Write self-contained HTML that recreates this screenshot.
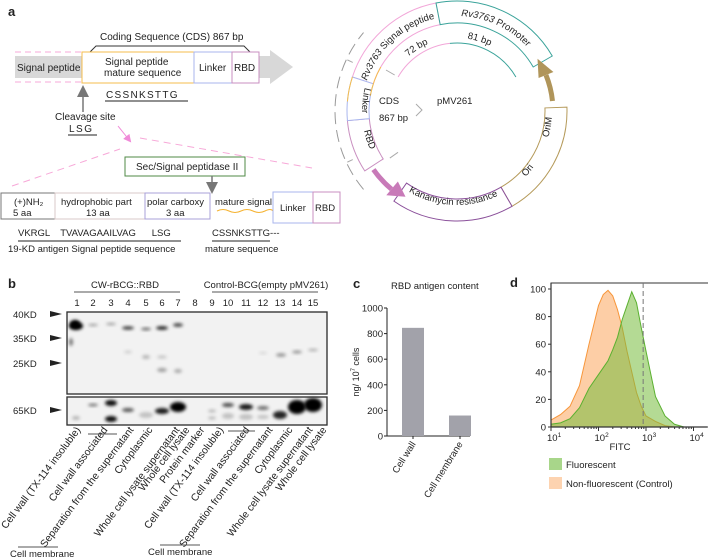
<!DOCTYPE html>
<html><head><meta charset="utf-8">
<style>
html,body{margin:0;padding:0;background:#fff;}
svg{display:block;font-family:"Liberation Sans",sans-serif;}
text{fill:#222;}
</style></head>
<body>
<svg id="fig" width="708" height="558" viewBox="0 0 708 558" xmlns="http://www.w3.org/2000/svg">
<defs>
<filter id="blur1" x="-80%" y="-80%" width="260%" height="260%"><feGaussianBlur stdDeviation="1.6"/></filter>
<marker id="ahGray" markerWidth="8" markerHeight="8" refX="4" refY="4" orient="auto"><path d="M0,0 L8,4 L0,8 Z" fill="#777"/></marker>
<marker id="ahPink" markerWidth="8" markerHeight="8" refX="6" refY="4" orient="auto"><path d="M0,0 L8,4 L0,8 Z" fill="#f08ad8"/></marker>
</defs>

<g>
<text x="8" y="16" font-size="13" font-weight="bold">a</text>
<text x="100" y="40" font-size="10">Coding Sequence (CDS) 867 bp</text>
<path d="M90,52 L96,46 L244,46 L250,52" fill="none" stroke="#333" stroke-width="1"/>
<path d="M259,56 L270,56 L270,50 L293,67 L270,84 L270,78 L259,78 Z" fill="#d8d8d8"/>
<rect x="15" y="56" width="67" height="22" fill="#d8d8d8"/>
<text x="17" y="71" font-size="10">Signal peptide</text>
<line x1="15" y1="52" x2="82" y2="52" stroke="#f7a8d8" stroke-dasharray="6,4"/>
<line x1="15" y1="82" x2="82" y2="82" stroke="#f7a8d8" stroke-dasharray="6,4"/>
<rect x="82" y="52" width="112" height="31" fill="#fff" stroke="#f5bd4c" stroke-width="1"/>
<text x="105" y="65" font-size="10">Signal peptide</text>
<text x="104" y="76" font-size="10">mature sequence</text>
<rect x="194" y="52" width="38" height="31" fill="#fff" stroke="#a9b6ee"/>
<text x="199" y="71" font-size="10">Linker</text>
<rect x="232" y="52" width="27" height="31" fill="#fff" stroke="#c98fc0"/>
<text x="234" y="71" font-size="10">RBD</text>
<text x="106" y="98" font-size="10" letter-spacing="1.3">CSSNKSTTG</text>
<line x1="105" y1="101" x2="188" y2="101" stroke="#222"/>
<line x1="83" y1="112" x2="83" y2="91" stroke="#777" stroke-width="1.5" marker-end="url(#ahGray)"/>
<text x="55" y="120" font-size="10">Cleavage site</text>
<text x="69" y="132" font-size="10" letter-spacing="1.5">LSG</text>
<line x1="68" y1="135" x2="97" y2="135" stroke="#222"/>
<line x1="118" y1="126" x2="130" y2="141" stroke="#f08ad8" stroke-width="1" marker-end="url(#ahPink)"/>
<line x1="12" y1="186" x2="120" y2="149" stroke="#f7a8d8" stroke-dasharray="7,5"/>
<line x1="140" y1="138" x2="312" y2="168" stroke="#f7a8d8" stroke-dasharray="7,5"/>
<rect x="125" y="157" width="120" height="19" fill="#fff" stroke="#4f8a46"/>
<text x="136" y="170" font-size="10">Sec/Signal peptidase II</text>
<line x1="212" y1="176" x2="212" y2="188" stroke="#777" stroke-width="1.5" marker-end="url(#ahGray)"/>
<rect x="1" y="193" width="54" height="26" fill="#fff" stroke="#777"/>
<text x="14" y="205" font-size="9.5">(+)NH₂</text>
<text x="13" y="216" font-size="9.5">5 aa</text>
<rect x="55" y="193" width="90" height="26" fill="#fff" stroke="#d8c8c8"/>
<text x="61" y="205" font-size="9.5">hydrophobic part</text>
<text x="86" y="216" font-size="9.5">13 aa</text>
<rect x="145" y="193" width="65" height="26" fill="#fff" stroke="#a8a0d8"/>
<text x="147" y="205" font-size="9.5">polar carboxy</text>
<text x="166" y="216" font-size="9.5">3  aa</text>
<text x="215" y="205" font-size="9.5">mature signal</text>
<path d="M217,211 q6,-3 12,0 t12,0 t12,0 t12,0 t8,0" fill="none" stroke="#f5b230" stroke-width="1"/>
<rect x="273" y="192" width="40" height="31" fill="#fff" stroke="#a9b6ee"/>
<text x="280" y="211" font-size="9.5">Linker</text>
<rect x="313" y="192" width="27" height="31" fill="#fff" stroke="#c98fc0"/>
<text x="315" y="211" font-size="9.5">RBD</text>
<text x="18" y="236" font-size="9.5" xml:space="preserve">VKRGL    TVAVAGAAILVAG      LSG</text>
<line x1="18" y1="241" x2="181" y2="241" stroke="#222"/>
<text x="8" y="252" font-size="9.5">19-KD antigen Signal peptide sequence</text>
<text x="212" y="236" font-size="9.5">CSSNKSTTG---</text>
<line x1="212" y1="241" x2="270" y2="241" stroke="#222"/>
<text x="205" y="252" font-size="9.5">mature sequence</text>
</g>

<g id="plasmid"></g>

<g>
<text x="8" y="288" font-size="13" font-weight="bold">b</text>
<line x1="74" y1="292" x2="180" y2="292" stroke="#555"/>
<line x1="212" y1="292" x2="318" y2="292" stroke="#555"/>
<text x="125" y="288" font-size="9.5" text-anchor="middle">CW-rBCG::RBD</text>
<text x="266" y="288" font-size="9.5" text-anchor="middle">Control-BCG(empty pMV261)</text>
<g id="lanes"></g>
<rect x="67" y="312" width="260" height="82" fill="#f2f2f2" stroke="#333" stroke-width="1.2"/>
<rect x="67" y="397" width="260" height="28" fill="#f2f2f2" stroke="#333" stroke-width="1.2"/>
<g id="bands"></g>
<rect x="67" y="312" width="260" height="82" fill="none" stroke="#333" stroke-width="1.2"/>
<rect x="67" y="397" width="260" height="28" fill="none" stroke="#333" stroke-width="1.2"/>
<g>
<text x="13" y="318" font-size="9.5">40KD</text><path d="M50,311 L62,314 L50,317Z" fill="#222"/>
<text x="13" y="342" font-size="9.5">35KD</text><path d="M50,335 L62,338 L50,341Z" fill="#222"/>
<text x="13" y="367" font-size="9.5">25KD</text><path d="M50,360 L62,363 L50,366Z" fill="#222"/>
<text x="13" y="414" font-size="9.5">65KD</text><path d="M50,407 L62,410 L50,413Z" fill="#222"/>
</g>
<g id="lanelabels"></g>
<line x1="88" y1="434" x2="117" y2="434" stroke="#555"/>
<line x1="228" y1="431" x2="255" y2="431" stroke="#555"/>
<line x1="18" y1="547" x2="58" y2="547" stroke="#555"/>
<text x="10" y="557" font-size="9.5">Cell membrane</text>
<line x1="160" y1="545" x2="200" y2="545" stroke="#555"/>
<text x="148" y="555" font-size="9.5">Cell membrane</text>
</g>

<g id="panelC">
<text x="353" y="288" font-size="13" font-weight="bold">c</text>
<text x="391" y="289" font-size="9.5">RBD antigen content</text>
</g>

<g id="panelD">
<text x="510" y="287" font-size="13" font-weight="bold">d</text>
</g>
</svg>

<script>
// ---------- chart c data ----------
const cCategories = ["Cell wall", "Cell membrane"];
const cValues = [845, 160];
const cTicks = [0, 200, 400, 600, 800, 1000];

// ---------- chart d data ----------
const dLogX = [1.0,1.2,1.4,1.6,1.8,2.0,2.1,2.2,2.3,2.4,2.5,2.6,2.7,2.8,2.9,3.0,3.2,3.4,3.6,3.8];
const dControl = [5,9,15,30,60,88,96,99,95,85,72,55,40,25,15,8,4,1,0,0];
const dFluorescent = [2,3,6,14,28,38,43,48,56,65,78,88,98,90,72,55,22,8,2,0];
const dYTicks = [0,20,40,60,80,100];
const dXTicks = [1,2,3,4];
const dGate = 2.94;

const NS = "http://www.w3.org/2000/svg";
function mk(parent, tag, attrs, txt){
  const e = document.createElementNS(NS, tag);
  for (const k in attrs) e.setAttribute(k, attrs[k]);
  if (txt !== undefined) e.textContent = txt;
  parent.appendChild(e);
  return e;
}

(function(){
  const g = document.getElementById('plasmid');
  const cx = 457, cy = 111;
  const P = (r,a)=>[cx + r*Math.cos(a*Math.PI/180), cy + r*Math.sin(a*Math.PI/180)];
  function arcD(r,a1,a2){ const p1=P(r,a1), p2=P(r,a2); const large = Math.abs(a2-a1)>180?1:0; const sw = a2>a1?1:0;
    return `M${p1[0]},${p1[1]} A${r},${r} 0 ${large} ${sw} ${p2[0]},${p2[1]}`; }
  function seg(a1,a2,col,name){
    const r1=88,r2=110; const o1=P(r2,a1),o2=P(r2,a2),i1=P(r1,a2),i2=P(r1,a1);
    const large = (a2-a1)>180?1:0;
    const p = mk(g,'path',{d:`M${o1} A${r2},${r2} 0 ${large} 1 ${o2} L${i1} A${r1},${r1} 0 ${large} 0 ${i2} Z`,fill:'#fff',stroke:col,'stroke-width':1});
    
    
  }
  seg(-162,-101,'#f2a6d8','signal-peptide-segment');
  seg(-101,-30,'#3aa39a','promoter-segment');
  seg(-2,60,'#b59a5a','ori-segment');
  seg(60,125,'#8a4f9a','kanamycin-segment');
  seg(147,175,'#c98fc0','rbd-segment');
  seg(175,198,'#a9b6ee','linker-segment');
  mk(g,'path',{d:arcD(88,-170,-150),fill:'none',stroke:'#f5bd4c','stroke-width':1});
  mk(g,'path',{d:arcD(110,-175,-162),fill:'none',stroke:'#f5bd4c','stroke-width':1});
  mk(g,'path',{d:arcD(68,-150,-96),fill:'none',stroke:'#f2a6d8','stroke-width':1});
  mk(g,'path',{d:arcD(68,-96,-30),fill:'none',stroke:'#3aa39a','stroke-width':1});
  mk(g,'path',{d:arcD(122,140,220),fill:'none',stroke:'#999','stroke-width':1,'stroke-dasharray':'12,6'});
  [[-150,72,82],[145,72,82],[155,115,121],[-155,115,121]].forEach(t=>{const a=P(t[1],t[0]),b=P(t[2],t[0]);mk(g,'line',{x1:a[0],y1:a[1],x2:b[0],y2:b[1],stroke:'#aaa'});});
  mk(g,'path',{d:'M416,104 L422,110 L416,116',fill:'none',stroke:'#aaa'});
  const brown = mk(g,'path',{d:arcD(96,-6,-22),fill:'none',stroke:'#b0955a','stroke-width':5});
  
  
  const bt=P(96,-33), bl=P(88,-22), br=P(104,-22);
  mk(g,'path',{d:`M${bt} L${bl} L${br} Z`,fill:'#b0955a'});
  const pink = mk(g,'path',{d:arcD(102,145,130),fill:'none',stroke:'#c87ab8','stroke-width':5});
  
  
  const pt=P(100,121), pl=P(92,130), pr=P(110,130);
  mk(g,'path',{d:`M${pt} L${pl} L${pr} Z`,fill:'#c87ab8'});
  const defs = document.querySelector('defs');
  function tp(id,r,a1,a2,txt,fs,italicPart,name){
    mk(defs,'path',{id:id,d:arcD(r,a1,a2)});
    const t = mk(g,'text',{'font-size':fs});
    
    
    const p = mk(t,'textPath',{href:'#'+id,startOffset:'50%','text-anchor':'middle'});
    if (italicPart){ mk(p,'tspan',{'font-style':'italic'},italicPart); mk(p,'tspan',{},txt); }
    else p.textContent = txt;
  }
  tp('tpSig',95,-165,-100,' Signal peptide',9.5,'Rv3763','signal-peptide-label');
  tp('tpProm',95,-100,-30,' Promoter',9.5,'Rv3763','promoter-label');
  tp('tpLink',95,198,175,'Linker',9.5,null,'linker-label');
  tp('tpRbd',95,177,147,'RBD',9.5,null,'rbd-label');
  tp('tpKan',94,125,60,'Kanamycin resistance',9.5,null,'kanamycin-label');
  tp('tpOri',95,60,20,'Ori',9.5,null,'ori-label');
  tp('tpOriM',95,25,-5,'OriM',9.5,null,'orim-label');
  tp('tp72',73,-140,-105,'72 bp',9.5,null,'72bp-label');
  tp('tp81',73,-90,-55,'81 bp',9.5,null,'81bp-label');
  const labels=[[379,104,'CDS','cds-label'],[379,121,'867 bp','cds-length-label'],[437,104,'pMV261','plasmid-name']];
  labels.forEach(l=>{const t=mk(g,'text',{x:l[0],y:l[1],'font-size':9.5},l[2]);
    
    });
})();

(function(){
  const lanesX=[77,93,111,128,146,162,178,195,212,228,246,263,280,297,313];
  const lg=document.getElementById('lanes');
  lanesX.forEach((x,i)=>{const t=mk(lg,'text',{x:x,y:306,'font-size':9.5,'text-anchor':'middle'},String(i+1));
    
    });
  const bg=document.getElementById('bands');
  const bands=[[76,326,7,4,1],[75,324,5,4,1],[71,342,2,4,0.5],[93,325,5,1.3,0.35],[111,324,5,1.3,0.35],[128,328,6,1.6,0.8],[146,329,5,1.3,0.65],[162,328,6,1.8,0.9],[162,357,5,1.5,0.2],[162,370,5,2,0.35],[178,325,5,1.8,0.75],[178,371,4,2,0.3],[146,357,4,2,0.25],[128,352,4,1.5,0.15],[263,353,4,1,0.15],[281,355,5,1.8,0.4],[297,352,5,1.5,0.4],[313,350,5,1.2,0.3],
   [93,405,5,1.3,0.6],[111,403,6,3,0.95],[111,419,6,3,0.95],[128,410,6,2,0.65],[146,415,7,3,0.2],[162,411,7,3,0.9],[178,407,8,5,1],[212,411,4,1.5,0.25],[212,418,4,1.5,0.25],[228,405,6,2,0.7],[228,416,6,3,0.2],[246,407,7,3,0.9],[246,417,7,3,0.2],[263,408,6,2,0.55],[263,417,6,2,0.2],[280,415,7,4,0.85],[297,407,9,7,1],[313,405,9,7,1],[76,418,4,2,0.25]];
  bands.forEach((b,i)=>{const e=mk(bg,'ellipse',{cx:b[0],cy:b[1],rx:b[2],ry:b[3],fill:'#000','fill-opacity':b[4],filter:'url(#blur1)'});
    
    });
  const names=["Cell wall (TX-114 insoluble)","Cell wall associated","Separation from the supernatant","Cytoplasmic","Whole cell lysate supernatant","Whole cell lysate","Protein marker","Cell wall (TX-114 insoluble)","Cell wall associated","Separation from the supernatant","Cytoplasmic","Whole cell lysate supernatant","Whole cell lysate"];
  const ends=[81,108,134,153,180,190,205,224,250,273,293,313,327];
  const ll=document.getElementById('lanelabels');
  names.forEach((n,i)=>{const t=mk(ll,'text',{x:0,y:0,'font-size':10.3,'text-anchor':'end',transform:`translate(${ends[i]},${430}) rotate(-53)`},n);
    
    });
})();

(function(){
  const g=document.getElementById('panelC');
  const x0=387, x1=470, yTop=308, yBot=436, vMax=1000;
  const y=v=>yBot-(v/vMax)*(yBot-yTop);
  const barW=22;
  const xc=i=>x0+26+i*47;
  mk(g,'line',{x1:x0,y1:yTop,x2:x0,y2:yBot,stroke:'#222'});
  mk(g,'line',{x1:x0,y1:yBot,x2:x1,y2:yBot,stroke:'#222'});
  cTicks.forEach(t=>{
    mk(g,'line',{x1:x0-3,y1:y(t),x2:x0,y2:y(t),stroke:'#222'});
    const tx=mk(g,'text',{x:x0-4,y:y(t)+3.5,'font-size':9.5,'text-anchor':'end'},String(t));
    
    
  });
  const yl=mk(g,'text',{x:0,y:0,'font-size':9,'text-anchor':'middle',transform:`translate(359,${(yTop+yBot)/2}) rotate(-90)`});
  
  
  yl.innerHTML='ng/ 10<tspan font-size="6" dy="-4">7</tspan><tspan dy="4"> cells</tspan>';
  cValues.forEach((v,i)=>{
    const r=mk(g,'rect',{x:xc(i)-barW/2,y:y(v),width:barW,height:yBot-y(v),fill:'#a2a2aa'});
    
    
    mk(g,'line',{x1:xc(i),y1:yBot,x2:xc(i),y2:yBot+3,stroke:'#222'});
    const t=mk(g,'text',{x:0,y:0,'font-size':9.5,'text-anchor':'end',transform:`translate(${xc(i)+3},${yBot+8}) rotate(-58)`},cCategories[i]);
    
    
  });
})();

(function(){
  const g=document.getElementById('panelD');
  const x0=551, xR=707, yTop=283, yBot=427;
  const X=l=>x0+(l-1)*47.5;
  const Y=v=>yBot-v*1.38;
  mk(g,'rect',{x:x0,y:yTop,width:xR-x0+5,height:yBot-yTop,fill:'#fff',stroke:'#333'});
  function area(vals,fill,stroke,name){
    let d=`M${X(dLogX[0])},${yBot}`;
    vals.forEach((v,i)=>{d+=` L${X(dLogX[i])},${Y(v)}`;});
    d+=` L${X(dLogX[dLogX.length-1])},${yBot} Z`;
    const p=mk(g,'path',{d:d,fill:fill,stroke:stroke,'stroke-width':1});
    
    
  }
  area(dControl,'rgb(253,206,166)','#f7963a','control-histogram');
  area(dFluorescent,'rgba(118,188,60,0.55)','#5bb030','fluorescent-histogram');
  const gate=mk(g,'line',{x1:X(dGate),y1:yTop,x2:X(dGate),y2:yBot,stroke:'#777','stroke-dasharray':'5,3'});
  
  
  mk(g,'line',{x1:x0,y1:yTop,x2:x0,y2:yBot,stroke:'#333','stroke-width':1.2});
  mk(g,'line',{x1:x0,y1:yBot,x2:xR,y2:yBot,stroke:'#333','stroke-width':1.2});
  dYTicks.forEach(t=>{
    mk(g,'line',{x1:x0-3,y1:Y(t),x2:x0,y2:Y(t),stroke:'#333'});
    const tx=mk(g,'text',{x:x0-5,y:Y(t)+3.5,'font-size':9.5,'text-anchor':'end'},String(t));
    
    
  });
  dXTicks.forEach(t=>{
    mk(g,'line',{x1:X(t),y1:yBot,x2:X(t),y2:yBot+4,stroke:'#333'});
    for(let k=2;k<10&&t<4;k++){const xx=X(t+Math.log10(k));mk(g,'line',{x1:xx,y1:yBot,x2:xx,y2:yBot+2,stroke:'#333'});}
    const tx=mk(g,'text',{x:X(t)-4,y:yBot+14,'font-size':9.5});
    
    
    tx.innerHTML='10<tspan font-size="6.5" dy="-4">'+t+'</tspan>';
  });
  const xt=mk(g,'text',{x:620,y:450,'font-size':9.5,'text-anchor':'middle'},'FITC');
  
  
  const l1=mk(g,'rect',{x:549,y:458,width:13,height:12,fill:'#a8d68a'});
  
  
  const t1=mk(g,'text',{x:566,y:468,'font-size':9.5},'Fluorescent');
  
  
  const l2=mk(g,'rect',{x:549,y:477,width:13,height:12,fill:'#fdd3b0'});
  
  
  const t2=mk(g,'text',{x:566,y:487,'font-size':9.5},'Non-fluorescent (Control)');
  
  
})();
</script>
</body></html>
